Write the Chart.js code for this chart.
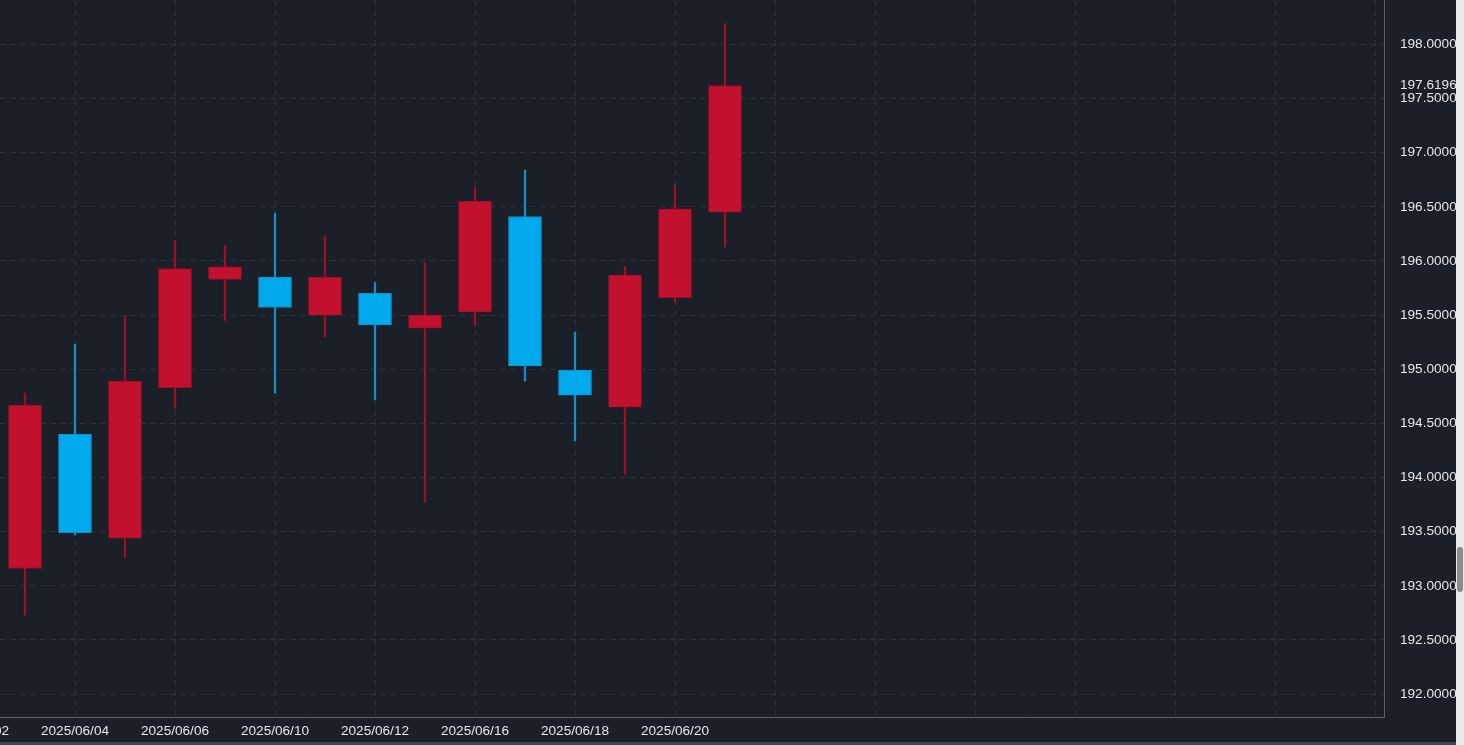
<!DOCTYPE html>
<html>
<head>
<meta charset="utf-8">
<script src="https://cdn.jsdelivr.net/npm/chart.js@4/dist/chart.umd.min.js"></script>
<style>
  html, body { margin: 0; padding: 0; width: 1464px; height: 745px; overflow: hidden; background: #1a1f28; }
  #wrap { position: absolute; left: -50px; top: 0; width: 1506px; height: 741px; }
  #strip { position: absolute; left: 0; top: 742px; width: 1456px; height: 3px; background: #3b4756; }
  #track { position: absolute; left: 1456px; top: 0; width: 8px; height: 745px; background: #e9e9e9; }
  #thumb { position: absolute; left: 1457px; top: 547px; width: 6px; height: 45px; background: #8b8b8b; border-radius: 3px; }
</style>
</head>
<body>
<div id="wrap"><canvas id="kline" width="1506" height="741"></canvas></div>
<div id="strip"></div>
<div id="track"></div>
<div id="thumb"></div>
<script>
// daily candles, 06/02 is off screen on the left
const dates = ['2025/06/02','2025/06/03','2025/06/04','2025/06/05','2025/06/06','2025/06/09','2025/06/10','2025/06/11',
               '2025/06/12','2025/06/13','2025/06/16','2025/06/17','2025/06/18','2025/06/19','2025/06/20','2025/06/23'];
const opens  = [null, 193.16, 194.40, 193.44, 194.83, 195.83, 195.85, 195.50, 195.70, 195.38, 195.53, 196.41, 194.99, 194.65, 195.66, 196.45];
const closes = [null, 194.67, 193.49, 194.89, 195.93, 195.945, 195.57, 195.85, 195.41, 195.50, 196.55, 195.03, 194.76, 195.87, 196.48, 197.6196];
const highs  = [null, 194.78, 195.23, 195.49, 196.19, 196.14, 196.44, 196.23, 195.80, 195.98, 196.68, 196.84, 195.34, 195.95, 196.70, 198.19];
const lows   = [null, 192.73, 193.47, 193.26, 194.64, 195.45, 194.78, 195.30, 194.72, 193.77, 195.40, 194.89, 194.34, 194.03, 195.62, 196.13];
const yTicks = [192.0, 192.5, 193.0, 193.5, 194.0, 194.5, 195.0, 195.5, 196.0, 196.5, 197.0, 197.5, 198.0];
const lastClose = closes[closes.length - 1];

const UP = '#c1112f', UP_LINE = '#9c0f29';
const DOWN = '#00aaec', DOWN_LINE = '#1b8cc2';
const GRID = '#2b323d';
const TEXT = '#e6e6e6';
const FONT = { family: 'Arial, "Liberation Sans", sans-serif', size: 13.6 };

const isUp = i => closes[i] >= opens[i];

const bodies = [], wicks = [];
dates.forEach((d, i) => {
    if (opens[i] == null) return;
    bodies.push({ x: i, y: [opens[i], closes[i]] });
    wicks.push({ x: i, y: [lows[i], highs[i]] });
});
const bodyIdx = bodies.map(p => p.x);

const ctx = document.getElementById('kline');
const chart = new Chart(ctx, {
    type: 'bar',
    data: {
        datasets: [
            {
                label: 'body',
                data: bodies,
                order: 0,
                grouped: false,
                barThickness: 33,
                borderWidth: 1,
                borderSkipped: false,
                backgroundColor: bodyIdx.map(i => isUp(i) ? UP : DOWN),
                borderColor: bodyIdx.map(i => isUp(i) ? UP_LINE : DOWN_LINE)
            },
            {
                label: 'wick',
                data: wicks,
                order: 1,
                grouped: false,
                barThickness: 1.6,
                borderWidth: 0,
                backgroundColor: bodyIdx.map(i => isUp(i) ? UP_LINE : DOWN_LINE)
            }
        ]
    },
    options: {
        responsive: false,
        animation: false,
        devicePixelRatio: 1,
        layout: { padding: 0 },
        plugins: {
            legend: { display: false },
            tooltip: { enabled: false }
        },
        events: [],
        scales: {
            x: {
                type: 'linear',
                offset: false,
                min: -0.5,
                max: 28.18,
                grid: { offset: false, color: GRID, lineWidth: 1, drawTicks: false },
                border: { display: true, color: '#5a6471', width: 1, dash: [6, 4] },
                ticks: {
                    stepSize: 2,
                    includeBounds: false,
                    autoSkip: false,
                    maxRotation: 0,
                    padding: 6,
                    color: TEXT,
                    font: FONT,
                    callback: v => (Number.isInteger(v) && dates[v]) ? dates[v] : ''
                },
                afterFit: axis => { axis.height = 24; axis.paddingLeft = 0; axis.paddingRight = 0; }
            },
            y: {
                position: 'right',
                min: 191.789,
                max: 198.409,
                grid: {
                    drawTicks: false,
                    lineWidth: 1,
                    color: c => (c.tick && c.tick.value === lastClose) ? 'rgba(0,0,0,0)' : GRID
                },
                border: { display: true, color: '#5a6471', width: 1, dash: [6, 4] },
                ticks: {
                    autoSkip: false,
                    padding: 16,
                    color: TEXT,
                    font: FONT,
                    callback: v => Number(v).toFixed(4)
                },
                afterBuildTicks: axis => {
                    axis.ticks = yTicks.concat([lastClose]).sort((a, b) => a - b).map(v => ({ value: v }));
                },
                afterFit: axis => { axis.width = 72; axis.paddingTop = 0; axis.paddingBottom = 0; }
            }
        }
    }
});
</script>
</body>
</html>
